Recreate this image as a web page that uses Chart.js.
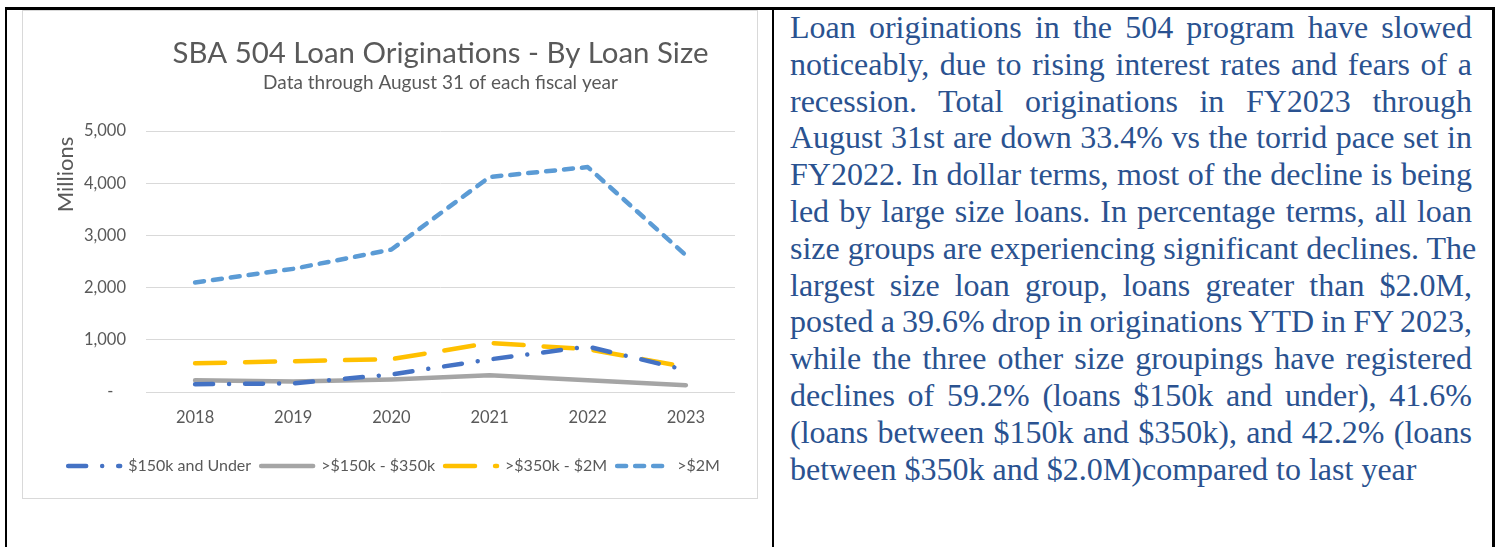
<!DOCTYPE html>
<html>
<head>
<meta charset="utf-8">
<script src="https://cdn.jsdelivr.net/npm/chart.js@4.4.0/dist/chart.umd.min.js"></script>
<style>
  html, body { margin: 0; padding: 0; background: #ffffff; }
  body { width: 1499px; height: 547px; position: relative; overflow: hidden; }
  .bl { position: absolute; background: #000; }
  #frame { position: absolute; left: 22px; top: 10px; width: 734px; height: 487px; border: 1px solid #D9D9D9; }
  #wrap { position: absolute; left: 23px; top: 11px; width: 734px; height: 487px; }
  #txt { position: absolute; left: 790px; top: 9px; width: 682px; font-family: "Liberation Serif", "Times New Roman", serif; font-size: 32px; line-height: 36.8px; color: #2A5290; }
  #txt div { text-align: justify; text-align-last: justify; white-space: nowrap; }
  #txt div.tight { word-spacing: -1px; }
  #txt div.last { text-align: left; text-align-last: left; }
</style>
</head>
<body>
<div class="bl" style="left:5px; top:7px; width:1490px; height:3px;"></div>
<div class="bl" style="left:5px; top:7px; width:2px; height:540px;"></div>
<div class="bl" style="left:772px; top:7px; width:2px; height:540px;"></div>
<div class="bl" style="left:1492px; top:7px; width:3px; height:540px;"></div>
<div id="frame"></div>
<div id="wrap"><canvas id="c" width="734" height="487"></canvas></div>
<div id="txt">
  <div>Loan originations in the 504 program have slowed</div>
  <div>noticeably, due to rising interest rates and fears of a</div>
  <div>recession. Total originations in FY2023 through</div>
  <div>August 31st are down 33.4% vs the torrid pace set in</div>
  <div>FY2022. In dollar terms, most of the decline is being</div>
  <div>led by large size loans. In percentage terms, all loan</div>
  <div>size groups are experiencing significant declines. The</div>
  <div>largest size loan group, loans greater than $2.0M,</div>
  <div class="tight">posted a 39.6% drop in originations YTD in FY 2023,</div>
  <div>while the three other size groupings have registered</div>
  <div>declines of 59.2% (loans $150k and under), 41.6%</div>
  <div>(loans between $150k and $350k), and 42.2% (loans</div>
  <div class="last">between $350k and $2.0M)compared to last year</div>
</div>
<script>
// ---- data ----
const categories = ['2018', '2019', '2020', '2021', '2022', '2023'];
const seriesUnder150k = [150, 165, 335, 625, 870, 420];
const series150to350k = [225, 200, 240, 320, 225, 130];
const series350kto2M = [550, 590, 630, 940, 820, 480];
const seriesOver2M = [2100, 2360, 2730, 4120, 4310, 2620];
const seriesLabels = ['$150k and Under', '>$150k - $350k', '>$350k - $2M', '>$2M'];
const yTickValues = [0, 1000, 2000, 3000, 4000, 5000];
const chartTitle = 'SBA 504 Loan Originations - By Loan Size';
const chartSubtitle = 'Data through August 31 of each fiscal year';
const yAxisTitle = 'Millions';

const FONT = 'Lato, "Open Sans", sans-serif';
const GREY = '#595959';

function ds(label, data, color, dash) {
  return {
    label: label, data: data, borderColor: color, backgroundColor: color,
    borderWidth: 4.5, borderDash: dash, borderCapStyle: 'round', borderJoinStyle: 'round',
    pointRadius: 0, pointHoverRadius: 0, pointStyle: 'line', tension: 0, fill: false
  };
}

new Chart(document.getElementById('c'), {
  type: 'line',
  data: {
    labels: categories,
    datasets: [
      ds(seriesLabels[0], seriesUnder150k, '#4472C4', [18, 16, 0.01, 16]),
      ds(seriesLabels[1], series150to350k, '#A5A5A5', []),
      ds(seriesLabels[2], series350kto2M, '#FFC000', [30, 20]),
      ds(seriesLabels[3], seriesOver2M, '#5B9BD5', [9, 9])
    ]
  },
  options: {
    responsive: false,
    animation: false,
    layout: { padding: { left: 30, right: 22, top: 0, bottom: 14 } },
    plugins: {
      tooltip: { enabled: false },
      title: {
        display: true, text: chartTitle, color: GREY, fullSize: false,
        font: { family: FONT, size: 29.4, weight: 'normal', lineHeight: 1.2 },
        padding: { top: 25, bottom: 0 }
      },
      subtitle: {
        display: true, text: chartSubtitle, color: GREY, fullSize: false,
        font: { family: FONT, size: 19, weight: 'normal', lineHeight: 1.2 },
        padding: { top: 0, bottom: 37 }
      },
      legend: {
        position: 'bottom',
        labels: {
          color: GREY,
          font: { family: FONT, size: 16 },
          usePointStyle: true,
          pointStyleWidth: 52,
          padding: 10,
          generateLabels: (chart) => chart.data.datasets.map((d, i) => ({
            text: d.label,
            fillStyle: d.borderColor,
            strokeStyle: d.borderColor,
            lineWidth: d.borderWidth,
            lineDash: d.borderDash,
            lineCap: 'round',
            pointStyle: 'line',
            fontColor: GREY,
            hidden: false,
            datasetIndex: i
          }))
        }
      }
    },
    scales: {
      x: {
        offset: true,
        grid: { display: false, drawTicks: false },
        border: { display: false },
        ticks: { color: GREY, font: { family: FONT, size: 16.5 }, padding: 16 },
        afterFit: (s) => { s.height = 56; }
      },
      y: {
        min: 0, max: 5000,
        afterBuildTicks: (s) => { s.ticks = yTickValues.map(v => ({ value: v })); },
        grid: { color: '#D9D9D9', lineWidth: 1, drawTicks: false },
        border: { display: false },
        ticks: {
          color: GREY, font: { family: FONT, size: 16.5 }, padding: 20,
          callback: (v) => v === 0 ? '-\u00a0\u00a0\u00a0' : v.toLocaleString('en-US')
        },
        title: {
          display: true, text: yAxisTitle + '\u00a0', color: GREY, align: 'end',
          font: { family: FONT, size: 22 }, padding: { top: 0, bottom: 0 }
        },
        afterFit: (s) => { s.width = 93; }
      }
    }
  }
});
</script>
</body>
</html>
